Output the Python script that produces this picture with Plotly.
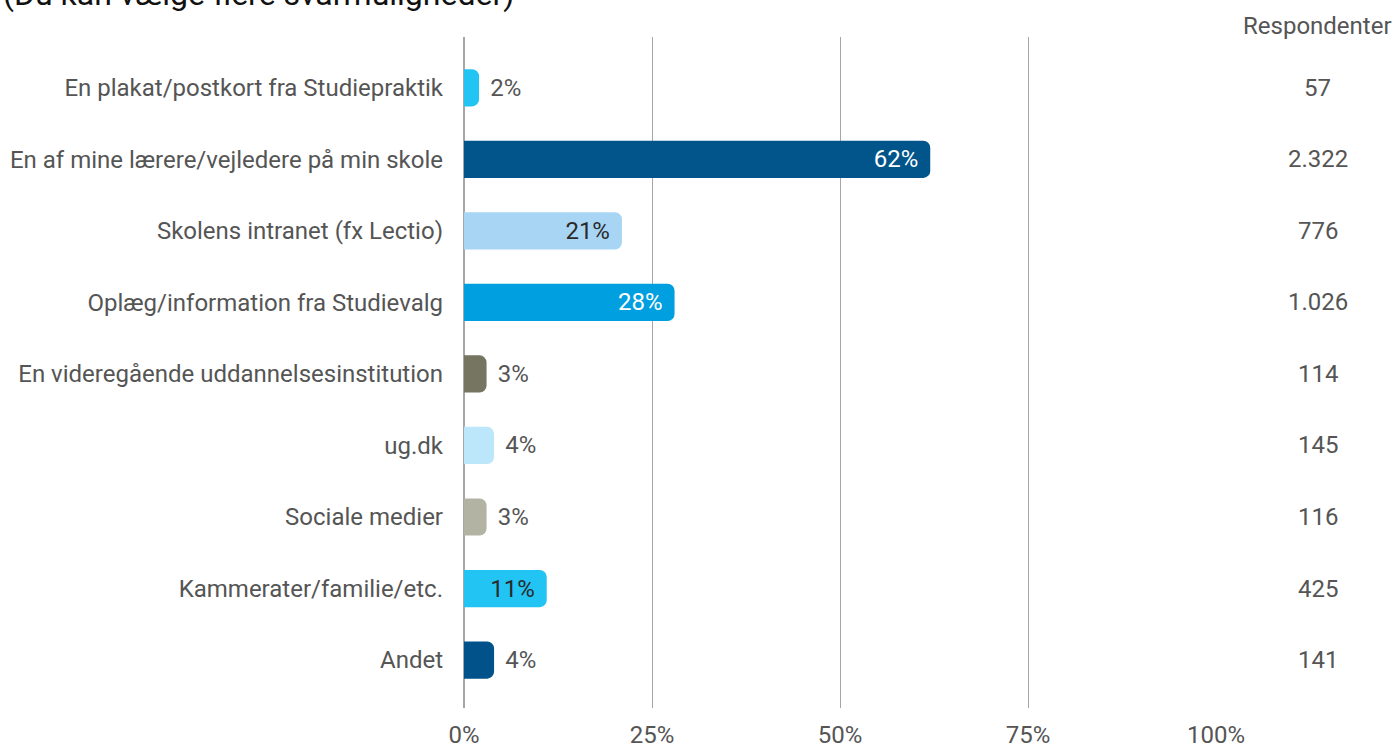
import plotly.graph_objects as go

categories = [
    "En plakat/postkort fra Studiepraktik",
    "En af mine lærere/vejledere på min skole",
    "Skolens intranet (fx Lectio)",
    "Oplæg/information fra Studievalg",
    "En videregående uddannelsesinstitution",
    "ug.dk",
    "Sociale medier",
    "Kammerater/familie/etc.",
    "Andet",
]
percent_values = [2, 62, 21, 28, 3, 4, 3, 11, 4]
respondents = ["57", "2.322", "776", "1.026", "114", "145", "116", "425", "141"]
bar_colors = ["#22c4f4", "#01558a", "#a9d5f5", "#009fe0", "#757562",
              "#bce6f9", "#b3b3a3", "#22c4f4", "#01528a"]
inside_flags = [False, True, True, True, False, False, False, True, False]
inside_text_colors = ["#444", "#ffffff", "#2a2a2a", "#ffffff", "#444",
                      "#444", "#444", "#2a2a2a", "#444"]
x_ticks = [0, 25, 50, 75, 100]
x_tick_labels = ["0%", "25%", "50%", "75%", "100%"]
title_text = "(Du kan vælge flere svarmuligheder)"
resp_header = "Respondenter"

FONT = "Roboto, Arial, sans-serif"
GRAY = "#555555"
FS = 24

labels = []
for v, f in zip(percent_values, inside_flags):
    labels.append(f"{v}%\u2004" if f else f"\u2004{v}%")

fig = go.Figure()
fig.add_trace(go.Bar(
    x=percent_values,
    y=categories,
    orientation="h",
    marker=dict(color=bar_colors, cornerradius=7, line=dict(width=0)),
    text=labels,
    textposition=["inside" if f else "outside" for f in inside_flags],
    insidetextanchor="end",
    textangle=0,
    insidetextfont=dict(family=FONT, size=FS, color=inside_text_colors),
    outsidetextfont=dict(family=FONT, size=FS, color=GRAY),
    cliponaxis=False,
    hoverinfo="skip",
))

annotations = []
for cat, r in zip(categories, respondents):
    annotations.append(dict(
        x=1.1356, xref="paper", y=cat, yref="y", text=r, showarrow=False,
        font=dict(family=FONT, size=FS, color=GRAY), xanchor="center", yanchor="middle",
    ))
annotations.append(dict(
    x=1.1356, xref="paper", y=1.0, yref="paper", yshift=-5, text=resp_header, showarrow=False,
    font=dict(family=FONT, size=FS, color=GRAY), xanchor="center", yanchor="bottom",
))
annotations.append(dict(
    x=-0.616, xref="paper", y=1.064, yref="paper", text=title_text, showarrow=False,
    font=dict(family=FONT, size=32, color="#111111"), xanchor="left", yanchor="middle",
))

n = len(categories)
fig.update_layout(
    width=1396, height=745,
    margin=dict(l=464, r=180, t=37, b=37, autoexpand=False),
    paper_bgcolor="white", plot_bgcolor="white",
    showlegend=False,
    bargap=0.48,
    annotations=annotations,
    xaxis=dict(
        range=[0, 100], tickvals=x_ticks, ticktext=x_tick_labels,
        showgrid=True, gridcolor="#a6a6a6", gridwidth=1,
        zeroline=True, zerolinecolor="#a6a6a6", zerolinewidth=2,
        tickfont=dict(family=FONT, size=FS, color=GRAY),
        ticks="", ticklabelstandoff=10, fixedrange=True, automargin=False,
    ),
    yaxis=dict(
        type="category", categoryorder="array", categoryarray=categories,
        range=[n - 1 + 0.67, -0.71],
        showgrid=False, zeroline=False, showline=False,
        tickfont=dict(family=FONT, size=FS, color=GRAY),
        ticks="", ticklabelstandoff=20, fixedrange=True, automargin=False,
    ),
)

fig.write_html("out.html", config={"displayModeBar": False},
               post_script="document.body.style.margin='0';")
